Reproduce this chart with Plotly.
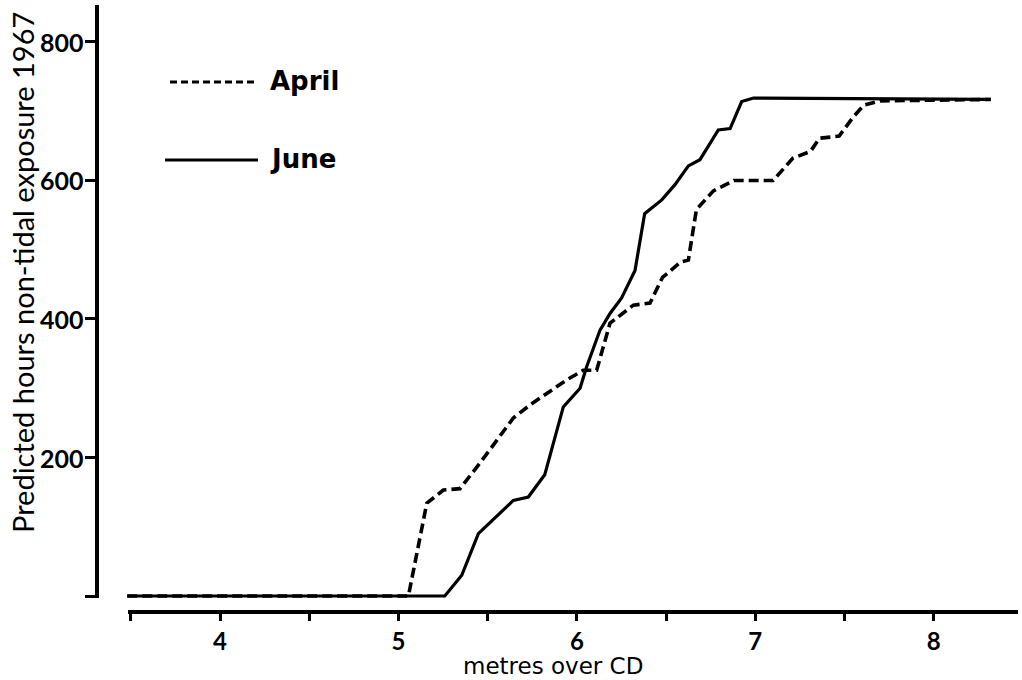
import plotly.graph_objects as go

# ---- data ----
april_x = [3.48, 5.056, 5.159, 5.252, 5.345, 5.457, 5.644, 5.738, 5.943, 6.036, 6.111,
           6.186, 6.317, 6.41, 6.48, 6.58, 6.625, 6.67, 6.765, 6.88, 7.10, 7.21, 7.31,
           7.36, 7.47, 7.55, 7.61, 7.70, 8.32]
april_y = [0, 0, 134, 153, 155, 192, 257, 276, 312, 326, 326,
           394, 420, 423, 460, 482, 485, 558, 585, 600, 600, 632, 642,
           661, 664, 692, 709, 715, 717]

june_x = [3.48, 5.26, 5.355, 5.448, 5.644, 5.728, 5.82, 5.924, 6.018, 6.055, 6.13,
          6.186, 6.25, 6.326, 6.38, 6.476, 6.55, 6.625, 6.69, 6.793, 6.859, 6.924,
          6.99, 8.32]
june_y = [0, 0, 30, 90, 138, 143, 175, 273, 300, 331, 384,
          408, 430, 470, 552, 572, 594, 621, 630, 673, 675, 714,
          719, 717]

x_tickvals = [3.5, 4, 4.5, 5, 5.5, 6, 6.5, 7, 7.5, 8]
x_ticktext = ["", "4", "", "5", "", "6", "", "7", "", "8"]
y_tickvals = [0, 200, 400, 600, 800]
y_ticktext = ["", "200", "400", "600", "800"]

x_title = "metres over CD"
y_title = "Predicted hours non-tidal exposure 1967"
series_names = ["April", "June"]

# ---- layout geometry (pixels) ----
W, H = 1022, 680
L, R, T, B = 97, 1017, 5, 612


def px_x(p):
    return (p - L) / (R - L)


def px_y(p):
    return (B - p) / (B - T)


fig = go.Figure()
fig.add_trace(go.Scatter(x=april_x, y=april_y, mode="lines", name=series_names[0],
                         line=dict(color="black", width=3.6, dash="10px,5px"),
                         showlegend=False))
fig.add_trace(go.Scatter(x=june_x, y=june_y, mode="lines", name=series_names[1],
                         line=dict(color="black", width=3.2),
                         showlegend=False))

tick_font = dict(family="Lato, DejaVu Sans, sans-serif", size=25, color="black", weight="bold")
xtick_font = dict(family="Lato, DejaVu Sans, sans-serif", size=24, color="black", weight="bold")

fig.update_layout(
    width=W, height=H,
    margin=dict(l=L, r=W - R, t=T, b=H - B, pad=0),
    paper_bgcolor="white", plot_bgcolor="white",
    xaxis=dict(range=[3.3105, 8.467], showgrid=False, zeroline=False, showline=False,
               tickmode="array", tickvals=x_tickvals, ticktext=x_ticktext,
               ticks="outside", ticklen=8, tickwidth=3, tickcolor="black",
               tickfont=xtick_font),
    yaxis=dict(range=[-23.1, 853.4], showgrid=False, zeroline=False, showline=False,
               tickmode="array", tickvals=y_tickvals, ticktext=y_ticktext,
               ticks="outside", ticklen=11, tickwidth=3, tickcolor="black",
               showticklabels=False),
    showlegend=False,
)

# y tick labels placed close to the ticks, as in the reference
for v, t in zip(y_tickvals, y_ticktext):
    if t:
        fig.add_annotation(x=px_x(86), xref="paper", y=v, yref="y", text=t,
                           showarrow=False, xanchor="right", yanchor="middle",
                           font=tick_font)

# detached axis lines
fig.add_shape(type="line", xref="paper", yref="paper",
              x0=0, x1=0, y0=px_y(598), y1=1.0,
              line=dict(color="black", width=4))
fig.add_shape(type="line", xref="paper", yref="paper",
              x0=px_x(128), x1=px_x(1018), y0=0, y1=0,
              line=dict(color="black", width=4))

# legend drawn manually
fig.add_shape(type="line", xref="paper", yref="paper",
              x0=px_x(170), x1=px_x(258), y0=px_y(82), y1=px_y(82),
              line=dict(color="black", width=3.2, dash="7px,4px"))
fig.add_shape(type="line", xref="paper", yref="paper",
              x0=px_x(165), x1=px_x(258), y0=px_y(160), y1=px_y(160),
              line=dict(color="black", width=3))
leg_font = dict(family="DejaVu Sans, sans-serif", size=26, color="black", weight="bold")
fig.add_annotation(x=px_x(268), y=px_y(81), xref="paper", yref="paper", text=series_names[0],
                   showarrow=False, xanchor="left", yanchor="middle", font=leg_font)
fig.add_annotation(x=px_x(268), y=px_y(159), xref="paper", yref="paper", text=series_names[1],
                   showarrow=False, xanchor="left", yanchor="middle", font=leg_font)

# axis titles
fig.add_annotation(x=px_x(553), y=px_y(666), xref="paper", yref="paper", text=x_title,
                   showarrow=False, xanchor="center", yanchor="middle",
                   font=dict(family="DejaVu Sans, sans-serif", size=23, color="black"))
fig.add_annotation(x=px_x(22), y=px_y(273), xref="paper", yref="paper", text=y_title,
                   showarrow=False, xanchor="center", yanchor="middle", textangle=-90,
                   font=dict(family="Lato, DejaVu Sans, sans-serif", size=29, color="black"))

fig.write_html("out.html")
